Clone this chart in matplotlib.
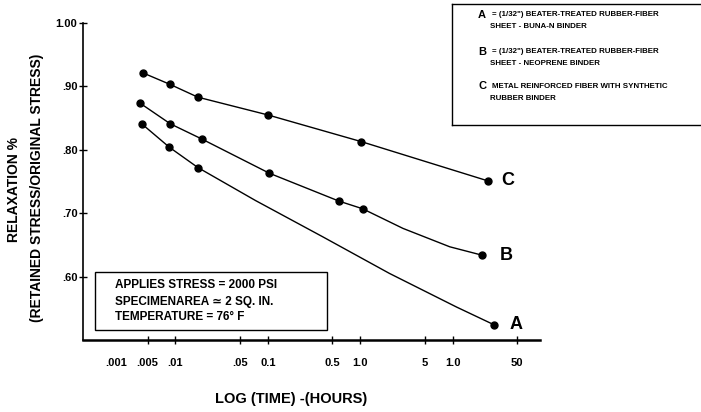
import matplotlib
matplotlib.use("Agg")
import matplotlib.pyplot as plt
from matplotlib import font_manager
from matplotlib.lines import Line2D
from matplotlib.patches import Rectangle


# Curve C - metal reinforced fiber (hours, retained stress ratio)
C_HOURS = [0.0045, 0.0088, 0.0175, 0.10, 1.02, 24.0]
C_RATIO = [0.921, 0.903, 0.883, 0.855, 0.813, 0.751]

# Curve B - neoprene binder
B_HOURS = [0.0041, 0.0088, 0.0193, 0.104, 0.59, 1.06, 20.5]
B_RATIO = [0.874, 0.841, 0.817, 0.763, 0.719, 0.707, 0.634]
# unmarked points along the hand drawn B curve
B_CURVE_HOURS = [2.9, 9.3]
B_CURVE_RATIO = [0.676, 0.647]

# Curve A - buna-n binder
A_HOURS = [0.0044, 0.0086, 0.0175, 28.0]
A_RATIO = [0.840, 0.804, 0.772, 0.524]
# unmarked points along the hand drawn A curve
A_CURVE_HOURS = [0.0735, 0.39, 2.07, 11.0]
A_CURVE_RATIO = [0.720, 0.663, 0.605, 0.552]

# the ".001" label sits off its tick in the original, so it gets its own spot
X_TICKS = [0.0023, 0.005, 0.01, 0.05, 0.1, 0.5, 1.0, 5.0, 10.0, 50.0]
X_TICK_LABELS = [".001", ".005", ".01", ".05", "0.1", "0.5", "1.0", "5", "1.0", "50"]
Y_TICKS = [0.6, 0.7, 0.8, 0.9, 1.0]
Y_TICK_LABELS = [".60", ".70", ".80", ".90", "1.00"]

LEGEND_LETTERS = ["A", "B", "C"]
LEGEND_LINES = [
    ["= (1/32\") BEATER-TREATED RUBBER-FIBER", "SHEET - BUNA-N BINDER"],
    ["= (1/32\") BEATER-TREATED RUBBER-FIBER", "SHEET - NEOPRENE BINDER"],
    ["METAL REINFORCED FIBER WITH SYNTHETIC", "RUBBER BINDER"],
]
CONDITIONS = [
    "APPLIES STRESS = 2000 PSI",
    "SPECIMENAREA \u2243 2 SQ. IN.",
    "TEMPERATURE = 76\u00b0 F",
]

W, H = 701, 412
FONT = ["Liberation Sans", "DejaVu Sans"]
installed = {f.name for f in font_manager.fontManager.ttflist}
if "Liberation Sans Narrow" in installed:
    NARROW, NARROW_SIZE = ["Liberation Sans Narrow", "DejaVu Sans"], 6.9
else:
    NARROW, NARROW_SIZE = FONT, 5.7


def px(x, y):
    """Pixel position in the 701x412 picture -> figure fraction."""
    return x / W, 1 - y / H


def merged(xs, ys, cx, cy):
    pts = sorted(zip(list(xs) + list(cx), list(ys) + list(cy)))
    return [p[0] for p in pts], [p[1] for p in pts]


plt.rcParams["font.family"] = FONT
fig = plt.figure(figsize=(W / 100, H / 100), dpi=100)
ax = fig.add_axes([83 / W, 1 - 340 / H, 457 / W, 317 / H])

series = [
    (C_HOURS, C_RATIO, [], [], "C", 14),
    (B_HOURS, B_RATIO, B_CURVE_HOURS, B_CURVE_RATIO, "B", 18),
    (A_HOURS, A_RATIO, A_CURVE_HOURS, A_CURVE_RATIO, "A", 16),
]
for xs, ys, cx, cy, name, dx in series:
    lx, ly = merged(xs, ys, cx, cy)
    ax.plot(lx, ly, color="black", lw=1.0)
    ax.plot(xs, ys, "o", color="black", ms=5)
    ax.annotate(name, (xs[-1], ys[-1]), xytext=(dx, 0), textcoords="offset points",
                ha="center", va="center", fontsize=13, fontweight="bold")

ax.set_xscale("log")
ax.set_xlim(0.001, 88)
ax.set_ylim(0.5, 1.0)
ax.set_xticks(X_TICKS, X_TICK_LABELS)
ax.minorticks_off()
ax.set_yticks(Y_TICKS, Y_TICK_LABELS)
ax.tick_params(axis="both", direction="inout", length=6, width=1.0, labelsize=8)
ax.tick_params(axis="x", pad=10)
ax.tick_params(axis="y", pad=1)
ax.xaxis.get_major_ticks()[0].tick1line.set_visible(False)
for lab in ax.get_xticklabels() + ax.get_yticklabels():
    lab.set_fontweight("bold")
for side in ["top", "right"]:
    ax.spines[side].set_visible(False)
ax.spines["left"].set_linewidth(1.2)
ax.spines["bottom"].set_linewidth(1.8)

# axis titles
fig.text(*px(14, 190), "RELAXATION %", rotation=90, ha="center", va="center",
         fontsize=10, fontweight="bold")
fig.text(*px(37, 188), "(RETAINED STRESS/ORIGINAL STRESS)", rotation=90,
         ha="center", va="center", fontsize=10, fontweight="bold")
fig.text(*px(291, 399), "LOG (TIME) -(HOURS)", ha="center", va="center",
         fontsize=10.5, fontweight="bold")

# test conditions box
x0, y0 = px(95, 330)
x1, y1 = px(327, 272)
fig.patches.append(Rectangle((x0, y0), x1 - x0, y1 - y0, transform=fig.transFigure,
                             fill=False, edgecolor="black", lw=1.0))
for line, yy in zip(CONDITIONS, [285, 301.5, 317]):
    fig.text(*px(115, yy), line, ha="left", va="center", fontsize=8.5,
             fontweight="bold")

# legend box, open on the right edge
for (xa, ya), (xb, yb) in [((452, 4), (701, 4)), ((452, 4), (452, 125)),
                           ((452, 125), (701, 125))]:
    p, q = px(xa, ya), px(xb, yb)
    fig.add_artist(Line2D([p[0], q[0]], [p[1], q[1]], transform=fig.transFigure,
                          color="black", lw=1.0))
for letter, lines, yy in zip(LEGEND_LETTERS, LEGEND_LINES, [15, 51.7, 86]):
    fig.text(*px(482, yy), letter, ha="center", va="center", fontsize=8,
             fontweight="bold")
    fig.text(*px(492, yy), lines[0], ha="left", va="center", fontsize=NARROW_SIZE,
             fontweight="bold", family=NARROW)
    fig.text(*px(490, yy + 12), lines[1], ha="left", va="center", fontsize=NARROW_SIZE,
             fontweight="bold", family=NARROW)

fig.savefig("out.png", dpi=100)
